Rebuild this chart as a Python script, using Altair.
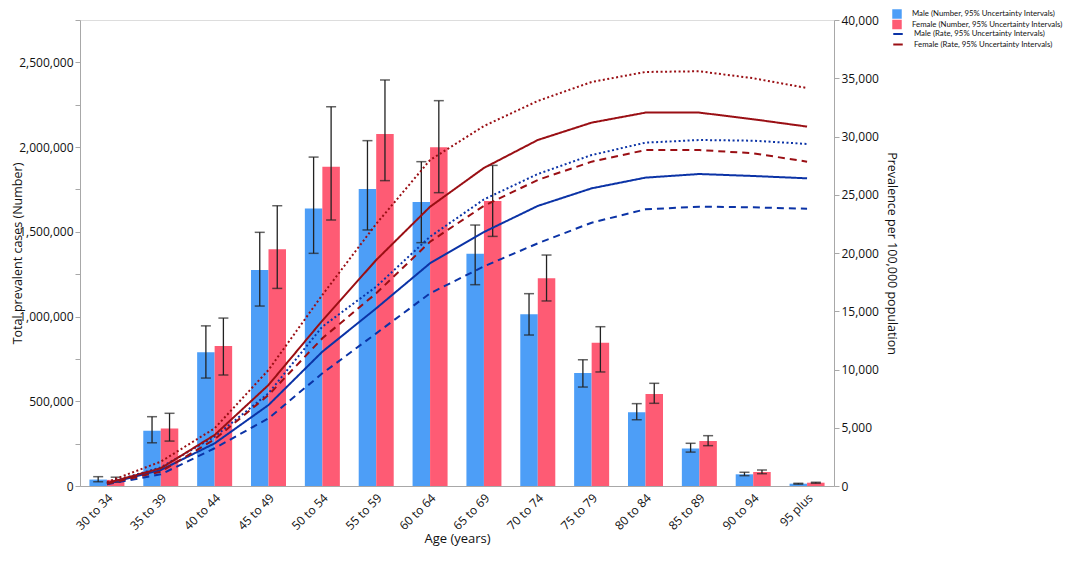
import altair as alt
import pandas as pd

ages = ["30 to 34", "35 to 39", "40 to 44", "45 to 49", "50 to 54", "55 to 59", "60 to 64",
        "65 to 69", "70 to 74", "75 to 79", "80 to 84", "85 to 89", "90 to 94", "95 plus"]

male_num = [38000, 326000, 790000, 1275000, 1638000, 1752000, 1676000, 1371000, 1013000, 667000, 435000, 222000, 69000, 13600]
male_num_lo = [25000, 255000, 637000, 1062000, 1373000, 1511000, 1436000, 1188000, 891000, 584000, 391000, 200000, 61000, 11000]
male_num_hi = [55000, 409000, 945000, 1497000, 1941000, 2038000, 1914000, 1540000, 1135000, 745000, 486000, 252000, 81000, 16000]

female_num = [36000, 340000, 826000, 1397000, 1884000, 2077000, 1999000, 1682000, 1226000, 846000, 543000, 265000, 83000, 19500]
female_num_lo = [22000, 265000, 655000, 1166000, 1570000, 1802000, 1731000, 1473000, 1092000, 673000, 488000, 238000, 72600, 16000]
female_num_hi = [52000, 429000, 991000, 1654000, 2238000, 2396000, 2274000, 1892000, 1363000, 940000, 606000, 297000, 94400, 22000]

male_rate = [200, 1370, 3660, 6950, 11530, 15250, 19120, 21800, 24040, 25550, 26470, 26780, 26610, 26410]
male_rate_hi = [260, 1600, 4230, 7960, 13680, 17110, 21400, 24600, 26780, 28410, 29470, 29700, 29640, 29360]
male_rate_lo = [150, 1000, 3240, 5810, 9670, 13100, 16540, 18850, 20830, 22600, 23750, 23980, 23920, 23800]

female_rate = [250, 1520, 4380, 8670, 14200, 19400, 23970, 27300, 29700, 31190, 32050, 32050, 31480, 30850]
female_rate_hi = [330, 2090, 4950, 9960, 16400, 22500, 27980, 30900, 33050, 34680, 35540, 35600, 35000, 34160]
female_rate_lo = [190, 1230, 4010, 7810, 12680, 16540, 20970, 24050, 26270, 27840, 28840, 28840, 28560, 27840]

left_ticks = list(range(0, 2750001, 250000))
right_ticks = list(range(0, 40001, 5000))

bar_series = ["Male (Number, 95% Uncertainty Intervals)", "Female (Number, 95% Uncertainty Intervals)"]
line_series = ["Male (Rate, 95% Uncertainty Intervals)", "Female (Rate, 95% Uncertainty Intervals)"]

FONT = "Open Sans"
LEGEND_FONT = "Lato"

bars_rows = []
for i, a in enumerate(ages):
    bars_rows.append({"age": a, "sex": "Male", "series": bar_series[0], "val": male_num[i],
                      "lo": male_num_lo[i], "hi": male_num_hi[i]})
    bars_rows.append({"age": a, "sex": "Female", "series": bar_series[1], "val": female_num[i],
                      "lo": female_num_lo[i], "hi": female_num_hi[i]})
bars_df = pd.DataFrame(bars_rows)

line_rows = []
for i, a in enumerate(ages):
    for sex, ser, est, lo, hi in [("Male", line_series[0], male_rate, male_rate_lo, male_rate_hi),
                                  ("Female", line_series[1], female_rate, female_rate_lo, female_rate_hi)]:
        line_rows.append({"age": a, "sex": sex, "series": ser, "bound": "Estimate", "rate": est[i]})
        line_rows.append({"age": a, "sex": sex, "series": ser, "bound": "Upper", "rate": hi[i]})
        line_rows.append({"age": a, "sex": sex, "series": ser, "bound": "Lower", "rate": lo[i]})
lines_df = pd.DataFrame(line_rows)

x_enc = alt.X("age:N", sort=ages, title="Age (years)",
              scale=alt.Scale(paddingInner=0.35, paddingOuter=0.175),
              axis=alt.Axis(labelAngle=-45, ticks=False, labelPadding=6, domainColor="#a8a8a8",
                            labelFontSize=12, titleFontSize=13, titleFontWeight="normal",
                            titleY=52, titleBaseline="middle",
                            labelColor="#111", titleColor="#111"))
xo_enc = alt.XOffset("sex:N", sort=["Male", "Female"], scale=alt.Scale(paddingInner=0, paddingOuter=0))

y_left = alt.Scale(domain=[0, 2750000], nice=False)
left_axis = alt.Axis(values=left_ticks,
                     labelExpr="datum.value % 500000 == 0 ? format(datum.value, ',') : ''",
                     grid=False, domainColor="#a8a8a8", tickColor="#a8a8a8", tickSize=5,
                     labelPadding=2, labelFontSize=12, titleFontSize=12.5, titleFontWeight="normal",
                     labelColor="#111", titleColor="#111", titleX=-63, titleBaseline="middle")

base_b = alt.Chart(bars_df)
bars = base_b.mark_bar(stroke=None).encode(
    x=x_enc,
    xOffset=xo_enc,
    y=alt.Y("val:Q", scale=y_left, title="Total prevalent cases (Number)", axis=left_axis),
    fill=alt.Fill("series:N", sort=bar_series,
                  scale=alt.Scale(domain=bar_series, range=["#4d9ef7", "#fe5b74"]),
                  legend=alt.Legend(title=None, orient="none", legendX=812, legendY=-11,
                                    symbolType="square", symbolSize=90, labelFontSize=7.8,
                                    labelFont=LEGEND_FONT, rowPadding=0.5, labelColor="#111",
                                    labelLimit=0, symbolStrokeWidth=0, labelOffset=10)),
)
rules = base_b.mark_rule(color="#222", strokeWidth=1.3).encode(
    x=alt.X("age:N", sort=ages), xOffset=xo_enc,
    y=alt.Y("lo:Q", scale=y_left), y2="hi:Q")
caps_hi = base_b.mark_tick(color="#222", thickness=1.5, size=10).encode(
    x=alt.X("age:N", sort=ages), xOffset=xo_enc, y=alt.Y("hi:Q", scale=y_left))
caps_lo = base_b.mark_tick(color="#222", thickness=1.5, size=10).encode(
    x=alt.X("age:N", sort=ages), xOffset=xo_enc, y=alt.Y("lo:Q", scale=y_left))

left_layer = alt.layer(bars, rules, caps_hi, caps_lo)

lines = alt.Chart(lines_df).mark_line(strokeWidth=2).encode(
    x=alt.X("age:N", sort=ages),
    y=alt.Y("rate:Q", scale=alt.Scale(domain=[0, 40000], nice=False),
            title="Prevalence per 100,000 population",
            axis=alt.Axis(orient="right", values=right_ticks,
                          labelExpr="format(datum.value, ',')", grid=False,
                          domainColor="#a8a8a8", tickColor="#a8a8a8", tickSize=5,
                          labelPadding=2, labelFontSize=12, titleFontSize=12.5,
                          titleFontWeight="normal",
                          labelColor="#111", titleColor="#111", titlePadding=6)),
    stroke=alt.Stroke("series:N", sort=line_series,
                      scale=alt.Scale(domain=line_series, range=["#0b33a6", "#9a0f14"]),
                      legend=alt.Legend(title=None, orient="none", legendX=812, legendY=8,
                                        symbolType="stroke", symbolSize=90, symbolStrokeWidth=2,
                                        labelFontSize=7.8, labelFont=LEGEND_FONT, rowPadding=0.5,
                                        labelLimit=0, labelColor="#111", labelOffset=10)),
    strokeDash=alt.StrokeDash("bound:N",
                              scale=alt.Scale(domain=["Estimate", "Upper", "Lower"],
                                              range=[[1, 0], [2, 2.5], [7, 5]]),
                              legend=None),
    detail="bound:N",
)

chart = alt.layer(left_layer, lines).resolve_scale(
    y="independent", fill="independent", stroke="independent", strokeDash="independent"
).properties(
    width=754, height=466,
    autosize=alt.AutoSizeParams(type="none"),
    padding={"left": 72, "top": 12, "right": 242, "bottom": 64},
).configure_view(stroke=None).configure(font=FONT)

chart.save("out.html", embed_options={"renderer": "svg", "actions": False})
